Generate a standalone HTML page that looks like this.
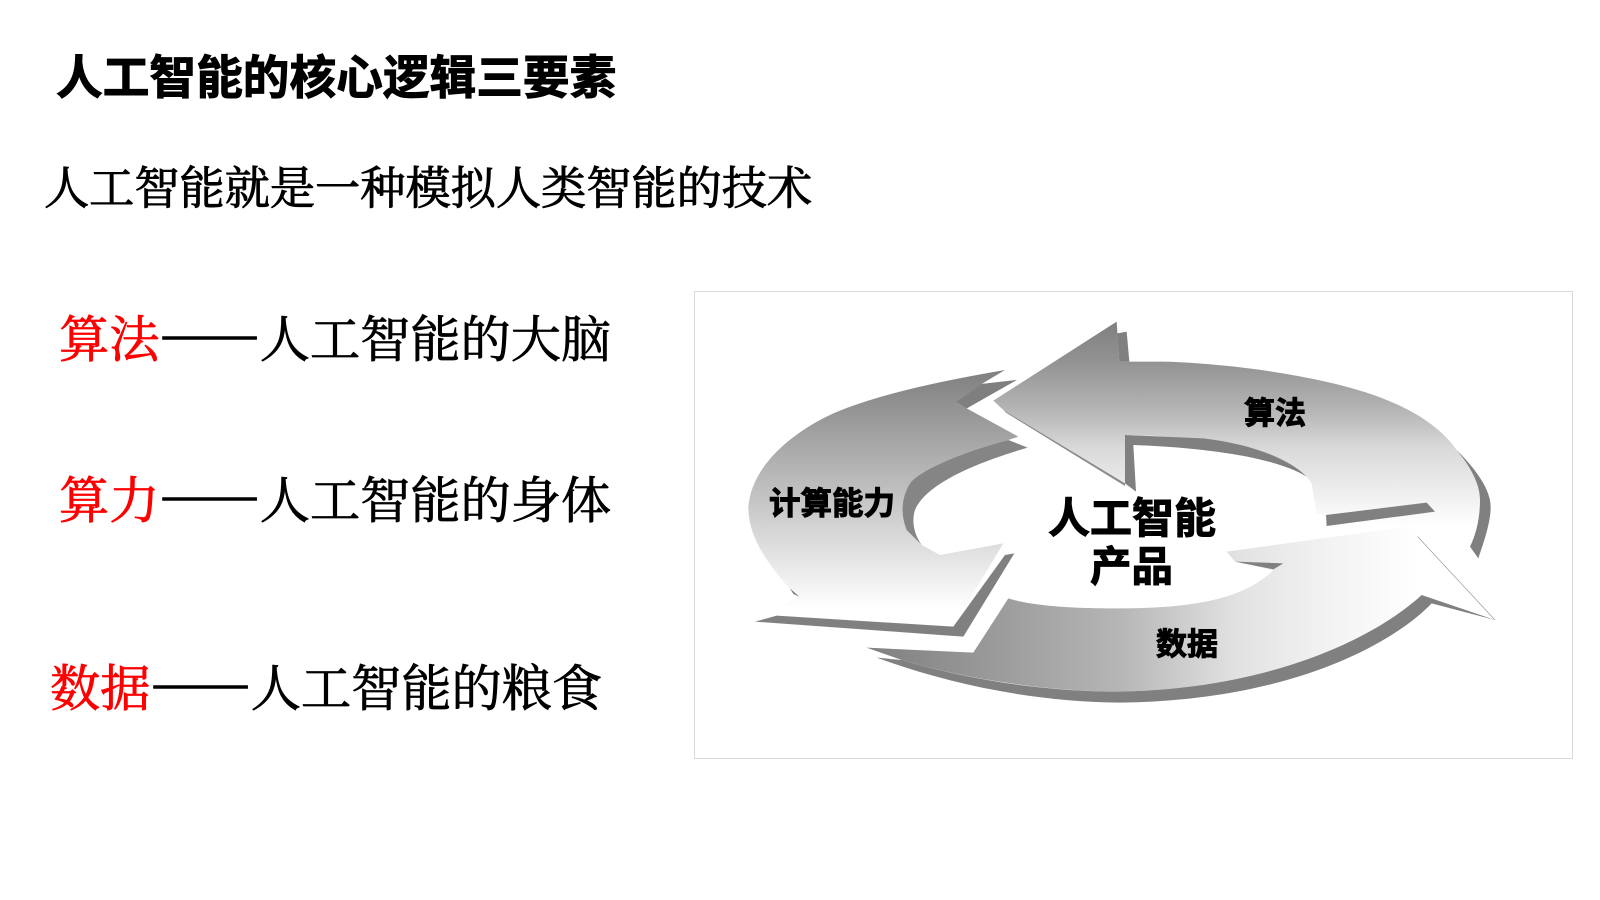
<!DOCTYPE html>
<html lang="zh-CN">
<head>
<meta charset="utf-8">
<title>人工智能的核心逻辑三要素</title>
<style>
html,body{margin:0;padding:0;background:#fff;}
body{width:1600px;height:900px;position:relative;overflow:hidden;}
.t{position:absolute;white-space:nowrap;color:#000;line-height:1;}
.title{left:56px;top:55px;font:700 46.7px/1 "Liberation Sans","Noto Sans CJK SC",sans-serif;-webkit-text-stroke:1px #000;}
.sub{left:44px;top:167px;font:400 45.2px/1 "Liberation Serif","Noto Serif CJK SC",serif;-webkit-text-stroke:.9px #000;}
.row{font:400 50.2px/1 "Liberation Serif","Noto Serif CJK SC",serif;-webkit-text-stroke:.8px #000;}
.row b{font-weight:400;color:#f00;-webkit-text-stroke:.8px #f00;}
.row i{font:400 50.2px/1 "Noto Serif CJK SC",serif;-webkit-text-stroke:1.5px #000;}
svg{position:absolute;left:0;top:0;}
svg text{font-family:"Liberation Sans","Noto Sans CJK SC",sans-serif;font-weight:700;fill:#000;stroke:#000;stroke-width:1px;}
</style>
</head>
<body>
<div class="t title">人工智能的核心逻辑三要素</div>
<div class="t sub">人工智能就是一种模拟人类智能的技术</div>
<div class="t row" style="left:59px;top:311px"><b>算法</b><i>——</i>人工智能的大脑</div>
<div class="t row" style="left:59px;top:472px"><b>算力</b><i>——</i>人工智能的身体</div>
<div class="t row" style="left:50px;top:660px"><b>数据</b><i>——</i>人工智能的粮食</div>

<svg width="1600" height="900" viewBox="0 0 1600 900">
  <defs>
    <linearGradient id="gl" gradientUnits="userSpaceOnUse" x1="0" y1="270" x2="0" y2="985">
      <stop offset="0" stop-color="#7f7f7f"/><stop offset="1" stop-color="#fff"/>
    </linearGradient>
    <linearGradient id="gt" gradientUnits="userSpaceOnUse" x1="0" y1="125" x2="0" y2="740">
      <stop offset="0" stop-color="#7f7f7f"/>
      <stop offset=".2" stop-color="#939393"/>
      <stop offset=".45" stop-color="#b8b8b8"/>
      <stop offset=".61" stop-color="#d8d8d8"/>
      <stop offset="1" stop-color="#fff"/>
    </linearGradient>
    <linearGradient id="gb" gradientUnits="userSpaceOnUse" x1="560" y1="0" x2="2220" y2="0">
      <stop offset="0" stop-color="#7f7f7f"/>
      <stop offset=".46" stop-color="#b6b6b6"/>
      <stop offset=".67" stop-color="#e2e2e2"/>
      <stop offset=".84" stop-color="#f3f3f3"/>
      <stop offset="1" stop-color="#fff"/>
    </linearGradient>
  </defs>
  <rect x="694.5" y="291.5" width="878" height="467" fill="#fff" stroke="#d9d9d9" stroke-width="1"/>
  <g transform="translate(680,280) scale(.33333)">
    <!-- left arrow -->
    <path fill="url(#gl)" d="M975,270 L905,312 L1010,300 L860,385 L1015,470 L985,480 C850,515 720,570 690,610 C665,650 660,700 680,750 L725,795 L780,825 L970,790 L820,1040 L230,1020 L350,950 C270,860 205,780 205,680 C215,560 330,460 460,400 C600,340 800,300 975,270Z"/>
    <path fill="#7f7f7f" d="M905,312 L1010,300 L860,385 L830,365Z"/>
    <path fill="#858585" d="M1043,503 L985,480 C850,515 720,570 690,610 C665,650 660,700 680,750 L725,795 C700,760 695,720 705,690 C730,630 830,565 1043,503Z"/>
    <path fill="#808080" d="M225,1025 L290,1007 L820,1040 L975,825 L1003,820 L850,1070Z"/>
    <path fill="#808080" d="M330,925 L358,950 L340,942Z"/>
    <!-- top arrow -->
    <path fill="url(#gt)" d="M940,362 L1310,125 L1318,245 L1450,245 C1650,250 1950,290 2120,360 C2210,395 2290,450 2330,510 C2380,570 2400,620 2400,660 C2400,720 2380,770 2370,800 L2180,740 L1940,710 L1910,700 L1895,610 L1880,590 C1750,510 1550,465 1335,465 L1335,610 L970,390Z"/>
    <path fill="#808080" d="M1312,160 L1340,155 L1348,245 L1318,245Z"/>
    <path fill="#8a8a8a" d="M970,390 L1335,610 L1335,618 L978,398Z"/>
    <path fill="#808080" d="M1335,465 L1570,475 C1700,490 1820,530 1880,590 C1800,540 1620,505 1360,495 L1368,635 L1335,610Z"/>
    <path fill="#808080" d="M2330,510 C2390,570 2432,630 2432,680 C2432,730 2410,790 2395,835 L2370,800 C2390,760 2400,710 2400,660 C2400,620 2380,570 2330,510Z"/>
    <path fill="#808080" d="M1938,705 L2240,668 L2265,695 L1940,738Z"/>
    <!-- bottom arrow -->
    <path fill="url(#gb)" d="M985,955 C1080,985 1250,985 1320,985 C1560,985 1700,950 1780,870 L1665,845 L1640,815 L2180,740 L2213,770 L2445,1020 L2250,945 L2225,945 C2100,1060 1800,1225 1320,1235 C1100,1235 850,1195 665,1140 L590,1133 L665,1140 L560,1103 L880,1118Z"/>
    <path fill="#808080" d="M2225,945 L2445,1020 L2255,970 C2150,1080 1850,1262 1320,1268 C1050,1265 800,1210 590,1133 L665,1140 C850,1195 1080,1235 1320,1235 C1800,1225 2100,1060 2225,945Z"/>
    <path fill="#808080" d="M1665,845 L1810,850 L1780,868Z"/>
    <path fill="none" stroke="#999" stroke-width="2" d="M2213,770 L2445,1020"/>
  </g>
  <text x="769" y="514" font-size="31.5">计算能力</text>
  <text x="1244" y="424" font-size="31">算法</text>
  <text x="1156" y="655" font-size="31">数据</text>
  <text x="1048" y="533" font-size="42">人工智能</text>
  <text x="1090" y="581" font-size="41.5">产品</text>
</svg>
</body>
</html>
